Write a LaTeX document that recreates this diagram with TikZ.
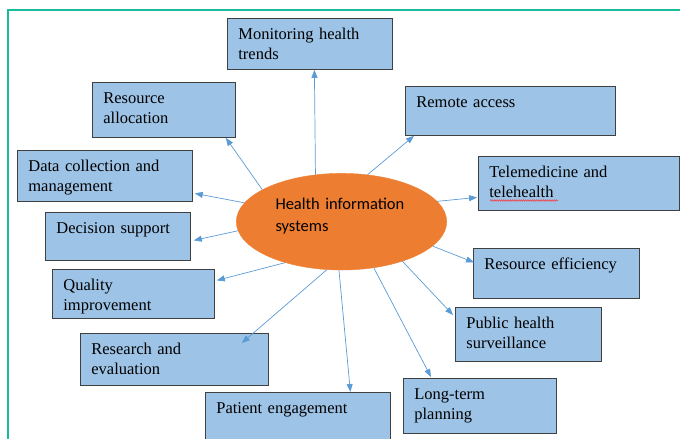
\documentclass[tikz,border=0pt]{standalone}
\usepackage{fontspec}
\setmainfont{Liberation Serif}
\newfontfamily\hubfont{Carlito}
\usepackage{xcolor}
\usepackage{tikz}
\usetikzlibrary{shapes.geometric,positioning,arrows.meta,decorations.pathmorphing}

\definecolor{boxblue}{RGB}{157,195,230}
\definecolor{hisorange}{RGB}{237,125,49}
\definecolor{linkblue}{RGB}{91,155,213}
\definecolor{frameteal}{RGB}{26,188,156}

\tikzset{
    box/.style 2 args={draw=black!75, line width=0.8pt, fill=boxblue, anchor=north west,
        minimum width=#1, minimum height=#2, text width=#1-22pt, inner xsep=11pt, inner ysep=4pt,
        align=left, text height=17.4pt, text depth=#2-25.4pt,
        font=\fontsize{16.5}{19.5}\selectfont},
    hub/.style={ellipse, fill=hisorange, draw=hisorange, inner sep=0pt,
        minimum width=210.4pt, minimum height=96.6pt, text width=132pt, align=left,
        text height=12pt, text depth=36.8pt, font=\hubfont\fontsize{16.5}{22}\selectfont},
    link/.style={draw=linkblue, line width=0.7pt, -{Triangle[length=8pt,width=6pt]}},
    squiggle/.style={draw=red!80, line width=0.5pt,
        decorate, decoration={zigzag, amplitude=0.8pt, segment length=2.2pt}}
}

\begin{document}
\begin{tikzpicture}[x=1pt, y=-1pt]
    \useasboundingbox (0,0) rectangle (680,439);
    \draw[frameteal, line width=1.5pt] (8,445) -- (8,10) -- (690,10);

    \node[hub] (his) at (341.5,221.7) {Health information\\systems};

    \node[box={165pt}{51pt}] (mon) at (227,18) {Monitoring health\\trends};
    \node[box={143pt}{55pt}] (ralloc) at (92,82) {Resource\\allocation};
    \node[box={210pt}{49pt}] (remote) at (405,86) {Remote access};
    \node[box={175pt}{51pt}] (datacoll) at (17,150) {Data collection and\\management};
    \node[box={145pt}{48pt}] (decision) at (45,212) {Decision support};
    \node[box={201pt}{54pt}] (tele) at (478,156) {Telemedicine and\\telehealth};
    \node[box={166pt}{50pt}] (reseff) at (473,248) {Resource efficiency};
    \node[box={162pt}{49pt}] (quality) at (52,269) {Quality\\improvement};
    \node[box={188pt}{52pt}] (research) at (80,333) {Research and\\evaluation};
    \node[box={185pt}{53pt}] (patient) at (205,392) {Patient engagement};
    \node[box={153pt}{55pt}] (longterm) at (403,378) {Long-term\\planning};
    \node[box={146pt}{54pt}] (public) at (455,307) {Public health\\surveillance};

    \draw[squiggle] ([xshift=12pt,yshift=-44.5pt]tele.north west) -- ++(68,0);

    \foreach \a/\b/\dx/\dy in {119/mon.south/4.5/0, 158/ralloc.south east/-10/0,
        61/remote.south west/9/0, 169/datacoll.east/2/-17.5, 185/decision.east/3/-4,
        12/tele.west/-1/-14, 345/reseff.west/1/11, 216/quality.east/2/13.5,
        253/research.north east/-27/-10, 267/patient.north/52.5/0,
        305/longterm.north west/28/1, 327/public.north west/-2/-8} {
        \draw[link] (his.\a) -- ([xshift=\dx pt,yshift=\dy pt]\b);
    }
\end{tikzpicture}
\end{document}
